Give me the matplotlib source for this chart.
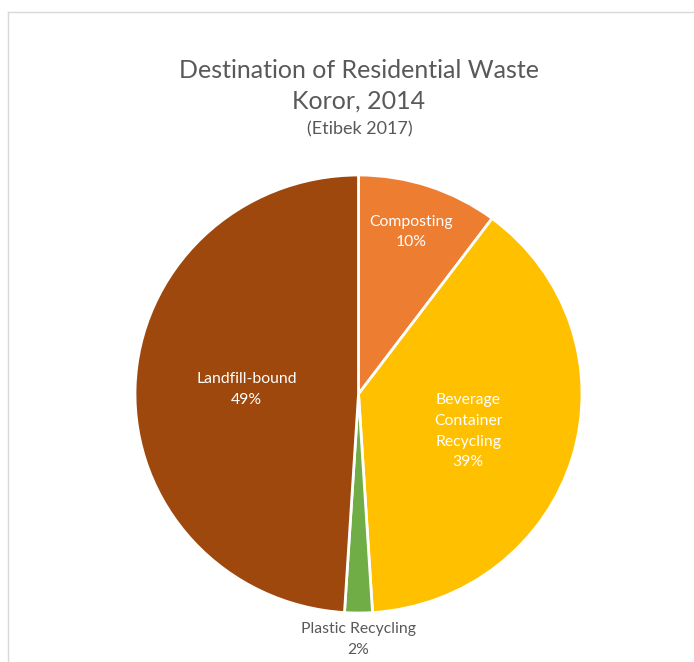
import matplotlib
matplotlib.use("Agg")
import matplotlib.pyplot as plt
from matplotlib.lines import Line2D

categories = ["Composting", "Beverage\nContainer\nRecycling", "Plastic Recycling", "Landfill-bound"]
values = [10.2, 38.8, 2.0, 49.0]
pct_labels = ["10%", "39%", "2%", "49%"]
colors = ["#ED7D31", "#FFC000", "#70AD47", "#9E480E"]
title_lines = ["Destination of Residential Waste", "Koror, 2014"]
subtitle = "(Etibek 2017)"

W, H = 694, 662
fig = plt.figure(figsize=(W / 100, H / 100), dpi=100)
plt.rcParams['font.family'] = ['Lato', 'DejaVu Sans']

cx, cy, rx, ry = 358.5, 394, 223.5, 219
ax = fig.add_axes([(cx - rx) / W, 1 - (cy + ry) / H, 2 * rx / W, 2 * ry / H])
ax.pie(values, colors=colors, startangle=90, counterclock=False,
       wedgeprops=dict(edgecolor="white", linewidth=2))
ax.set_aspect("auto")
ax.set_xlim(-1, 1)
ax.set_ylim(-1, 1)
ax.axis("off")

label_pos = [(0.235, 0.74), (0.49, -0.17), (0.0, -1.12), (-0.50, 0.02)]
label_colors = ["white", "white", "#595959", "white"]
for cat, pct, (x, y), c in zip(categories, pct_labels, label_pos, label_colors):
    ax.text(x, y, cat + "\n" + pct, ha="center", va="center", color=c,
            fontsize=11.3, linespacing=1.6, clip_on=False)

fig.text(359 / W, 1 - 70 / H, title_lines[0], ha="center", va="center",
         fontsize=18, color="#595959")
fig.text(359 / W, 1 - 101 / H, title_lines[1], ha="center", va="center",
         fontsize=18, color="#595959")
fig.text(360 / W, 1 - 129 / H, subtitle, ha="center", va="center",
         fontsize=13, color="#595959")

# chart area border (top and left visible)
fig.add_artist(Line2D([8 / W, 1], [1 - 12 / H, 1 - 12 / H], color="#D9D9D9", linewidth=1))
fig.add_artist(Line2D([8 / W, 8 / W], [0, 1 - 12 / H], color="#D9D9D9", linewidth=1))

fig.savefig("out.png", dpi=100, facecolor="white")
